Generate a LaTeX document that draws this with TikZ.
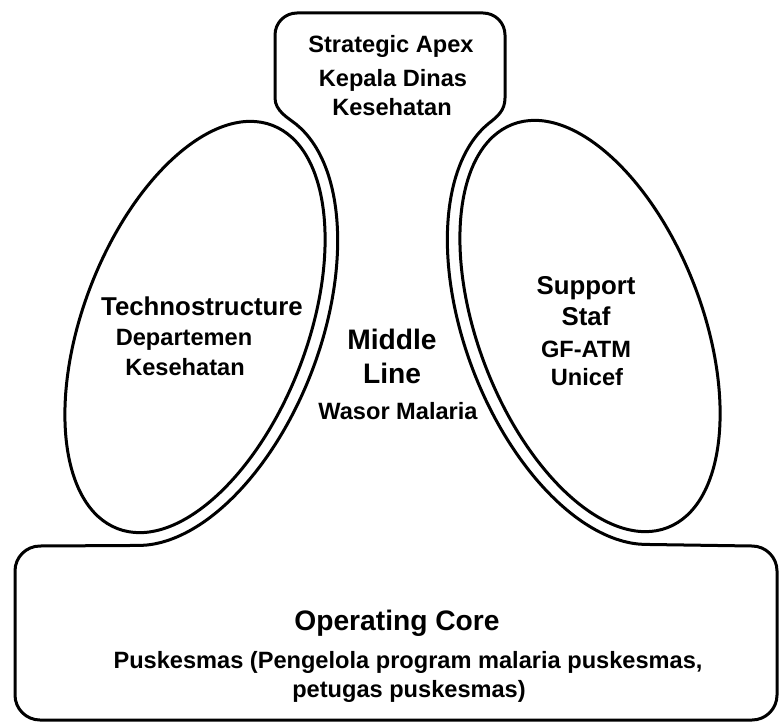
\documentclass[tikz,border=0pt]{standalone}
\usepackage{fontspec}
\setmainfont{Liberation Sans}
\usepackage{tikz}

\tikzset{
  partline/.style={line width=1.5pt, line join=round},
  headtext/.style={anchor=base, inner sep=0pt, font=\bfseries\fontsize{12.9}{15}\selectfont},
  subtext/.style={anchor=base, inner sep=0pt, font=\bfseries\fontsize{11.8}{14}\selectfont},
  bigtext/.style={anchor=base, inner sep=0pt, font=\bfseries\fontsize{14.1}{17}\selectfont}
}

\begin{document}
\begin{tikzpicture}[x=0.5pt, y=0.5pt]
    \useasboundingbox (0,0) rectangle (779,723);

    % outer contour: operating core, middle line and strategic apex
    \draw[partline] (40,177)
        -- plot[smooth, domain=-168:-10, samples=50]
           ({195+82.07*cos(\x)-116.7*sin(\x)}, {396+213.8*cos(\x)+44.8*sin(\x)})
        .. controls (288.3,605) and (275,612) .. (275,625)
        -- (275,688) arc[start angle=180, end angle=90, radius=22]
        -- (483,710) arc[start angle=90, end angle=0, radius=22]
        -- (505,625) .. controls (505,612) and (496.7,606) .. (488.9,599.7)
        -- plot[smooth, domain=10:168, samples=50]
           ({590-82.07*cos(\x)-116.7*sin(\x)}, {397+213.8*cos(\x)-44.8*sin(\x)})
        -- (752,177) arc[start angle=90, end angle=0, radius=25]
        -- (777,28) arc[start angle=0, end angle=-90, radius=25]
        -- (40,3) arc[start angle=270, end angle=180, radius=25]
        -- (15,152) arc[start angle=180, end angle=90, radius=25]
        -- cycle;

    % technostructure and support staff
    \draw[partline, rotate around={69:(195,396)}] (195,396) ellipse[x radius=216, y radius=112];
    \draw[partline, rotate around={111:(590,397)}] (590,397) ellipse[x radius=216, y radius=112];

    % strategic apex
    \node[subtext] (apexA) at (391,670) {Strategic Apex};
    \node[subtext] (apexB) at (393,636) {Kepala Dinas};
    \node[subtext] (apexC) at (392,607) {Kesehatan};

    % technostructure
    \node[headtext] (techA) at (202,408) {Technostructure};
    \node[subtext] (techB) at (184,378) {Departemen};
    \node[subtext] (techC) at (185,348) {Kesehatan};

    % middle line
    \node[bigtext] (midA) at (392,374) {Middle};
    \node[bigtext] (midB) at (392,340) {Line};
    \node[subtext] (midC) at (398,304) {Wasor Malaria};

    % support staff
    \node[headtext] (suppA) at (586,428) {Support};
    \node[headtext] (suppB) at (586,398) {Staf};
    \node[subtext] (suppC) at (586,365) {GF-ATM};
    \node[subtext] (suppD) at (587,338) {Unicef};

    % operating core
    \node[bigtext] (coreA) at (397,93) {Operating Core};
    \node[subtext] (coreB) at (408,55) {Puskesmas (Pengelola program malaria puskesmas,};
    \node[subtext] (coreC) at (409,26) {petugas puskesmas)};
\end{tikzpicture}
\end{document}
